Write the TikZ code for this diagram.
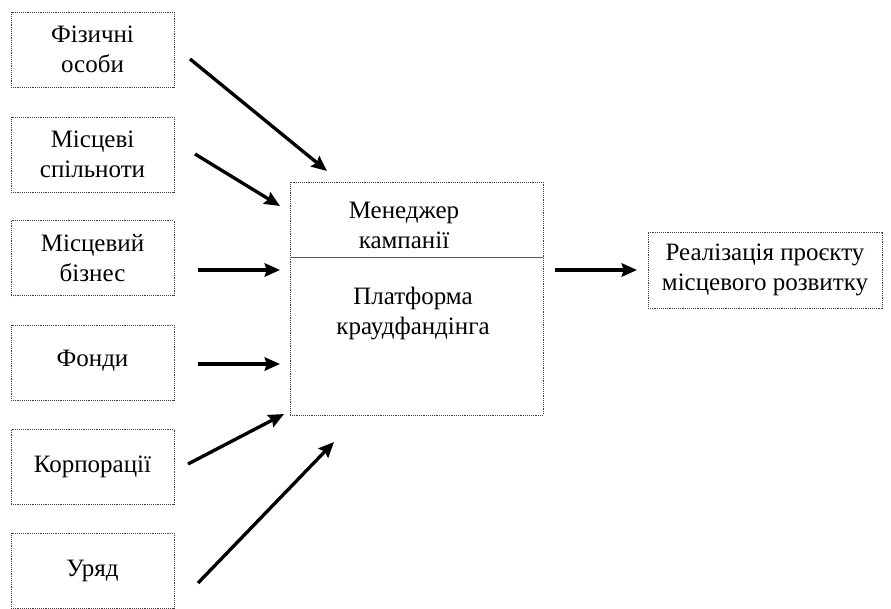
\documentclass[tikz,border=0pt]{standalone}
\usepackage{fontspec}
\setmainfont{Liberation Serif}
\usetikzlibrary{arrows.meta}

\tikzset{
  dotbox/.style={draw=black!75, line width=0.6pt, dash pattern=on 0.7pt off 0.7pt,
    rectangle, inner sep=0pt, align=center},
  srcbox/.style={dotbox, minimum width=122.25pt, minimum height=56.25pt},
  label/.style={align=center, inner sep=0pt},
  flow/.style={line width=2.5pt, -{Stealth[length=11.5pt,width=10pt,inset=1.5pt]}}
}

\begin{document}
\begin{tikzpicture}[x=0.75pt,y=-0.75pt,font=\fontsize{18.75pt}{22.5pt}\selectfont]
  \useasboundingbox (0,0) rectangle (891,608);

  % sources
  \node[srcbox] (Fiz) at (92.5,49.5) {Фізичні\\особи};
  \node[srcbox] (Spil) at (92.5,154.5) {Місцеві\\спільноти};
  \node[srcbox] (Biz) at (92.5,258) {Місцевий\\бізнес};
  \node[srcbox] (Fond) at (92.5,362.5) {\raisebox{7pt}{Фонди}};
  \node[srcbox] (Korp) at (92.5,467) {Корпорації};
  \node[srcbox] (Uriad) at (92.5,570.5) {Уряд};

  % crowdfunding
  \node[dotbox, minimum width=189.75pt, minimum height=174.75pt] (Plat) at (416.5,298.5) {};
  \coordinate (DivL) at (290,257);
  \coordinate (DivR) at (543,257);
  \draw[black!65, line width=0.7pt] (DivL) -- (DivR);
  \node[label] (Men) at (404,225) {Менеджер\\кампанії};
  \node[label] (Kraud) at (413,314) {Платформа\\краудфандінга};

  % result
  \node[dotbox, minimum width=175.5pt, minimum height=57pt] (Real) at (765,270) {Реалізація проєкту\\місцевого розвитку};

  % arrows
  \coordinate (FizT) at (190,59);   \coordinate (FizH) at (327,171);
  \coordinate (SpilT) at (195,154); \coordinate (SpilH) at (280,206);
  \coordinate (BizT) at (198,270);  \coordinate (BizH) at (280,270);
  \coordinate (FondT) at (198,364); \coordinate (FondH) at (280,364);
  \coordinate (KorpT) at (188,464); \coordinate (KorpH) at (284,414);
  \coordinate (UriadT) at (198,583); \coordinate (UriadH) at (334,442);
  \coordinate (RealT) at (555,270); \coordinate (RealH) at (637,270);
  \draw[flow] (FizT) -- (FizH);
  \draw[flow] (SpilT) -- (SpilH);
  \draw[flow] (BizT) -- (BizH);
  \draw[flow] (FondT) -- (FondH);
  \draw[flow] (KorpT) -- (KorpH);
  \draw[flow] (UriadT) -- (UriadH);
  \draw[flow] (RealT) -- (RealH);
\end{tikzpicture}
\end{document}
